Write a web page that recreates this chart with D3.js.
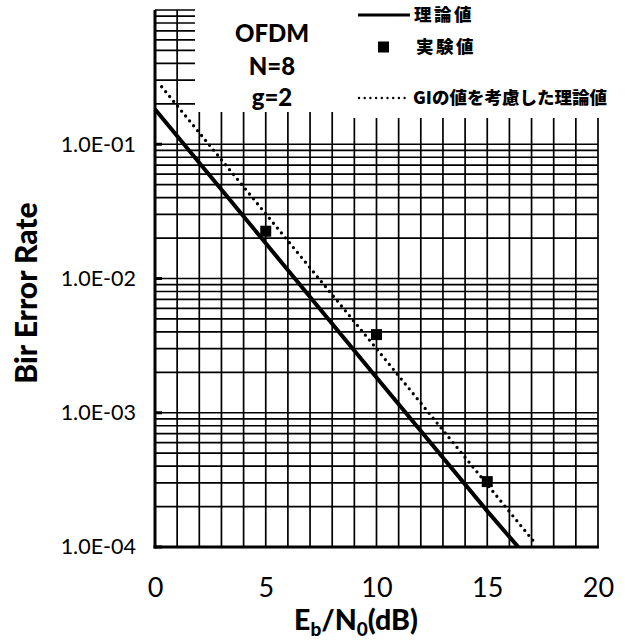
<!DOCTYPE html>
<html><head><meta charset="utf-8">
<script src="https://cdn.jsdelivr.net/npm/d3@7"></script>
<style>body{margin:0;background:#fff}svg{display:block}</style>
</head><body>
<svg id="c" width="635" height="643"></svg>
<script>
// Data
const xTicks = [0, 5, 10, 15, 20];
const yTicks = [1e-1, 1e-2, 1e-3, 1e-4];
const yTickLabels = ["1.0E-01", "1.0E-02", "1.0E-03", "1.0E-04"];
const theoryX = [0, 5, 10, 15, 16.4];
const theoryY = [0.182, 0.0183, 0.00183, 0.000185, 0.0001];
const giX = [0.3, 5, 10, 15, 17.2];
const giY = [0.268, 0.0303, 0.0030, 0.000292, 0.000105];
const expX = [5, 10, 15];
const expY = [0.0225, 0.00382, 0.000307];
const infoLines = ["OFDM", "N=8", "g=2"];
const legendLabels = ["理論値", "実験値", "GIの値を考慮した理論値"];

const svg = d3.select("#c");
const L = 155, R = 598, T = 10, B = 547;
const x = d3.scaleLinear().domain([0, 20]).range([L, R]);
const y = d3.scaleLog().domain([1e-4, 1]).range([B, T]);
const font = "Lato, 'Open Sans', sans-serif";
const cjk = "'Noto Sans CJK JP', sans-serif";

// grid
const g = svg.append("g");
d3.range(0, 21).forEach(v => {
  g.append("line").attr("x1", x(v)).attr("x2", x(v)).attr("y1", T).attr("y2", B)
    .attr("stroke", "#000").attr("stroke-width", 1.7);
});
const hvals = [];
for (let e = -4; e <= -1; e++) for (let m = 1; m <= 9; m++) hvals.push(m * Math.pow(10, e));
hvals.push(1);
hvals.forEach(v => {
  g.append("line").attr("x1", L).attr("x2", R).attr("y1", y(v)).attr("y2", y(v))
    .attr("stroke", "#000").attr("stroke-width", 1.7);
});

// axes
const yAxis = d3.axisLeft(y).tickValues(yTicks).tickFormat((d, i) => yTickLabels[i]).tickSize(0).tickPadding(19);
const ya = svg.append("g").attr("transform", `translate(${L},0)`).call(yAxis);
ya.select(".domain").remove();
ya.selectAll("text").attr("font-family", font).attr("font-size", 21.5).attr("fill", "#000");
yTicks.forEach(v => {
  svg.append("line").attr("x1", L).attr("x2", L + 7).attr("y1", y(v)).attr("y2", y(v))
    .attr("stroke", "#000").attr("stroke-width", 3);
});
const xAxis = d3.axisBottom(x).tickValues(xTicks).tickSize(0).tickPadding(31);
const xa = svg.append("g").attr("transform", `translate(0,${B})`).call(xAxis);
xa.select(".domain").remove();
xa.selectAll("text").attr("font-family", font).attr("font-size", 27).attr("fill", "#000");

svg.append("line").attr("x1", L).attr("x2", L).attr("y1", T).attr("y2", B + 1.5).attr("stroke", "#000").attr("stroke-width", 3);
svg.append("line").attr("x1", L - 1.5).attr("x2", R + 1).attr("y1", B).attr("y2", B).attr("stroke", "#000").attr("stroke-width", 3);

// series
const line = d3.line().x(d => x(d[0])).y(d => y(d[1]));
svg.append("path").datum(theoryX.map((v, i) => [v, theoryY[i]])).attr("d", line)
  .attr("fill", "none").attr("stroke", "#000").attr("stroke-width", 4);
svg.append("path").datum(giX.map((v, i) => [v, giY[i]])).attr("d", line)
  .attr("fill", "none").attr("stroke", "#000").attr("stroke-width", 3.3)
  .attr("stroke-linecap", "round").attr("stroke-dasharray", "0 6.3");
svg.selectAll("rect.exp").data(expX.map((v, i) => [v, expY[i]])).enter().append("rect")
  .attr("class", "exp").attr("x", d => x(d[0]) - 5.5).attr("y", d => y(d[1]) - 5.5)
  .attr("width", 11).attr("height", 11).attr("fill", "#000");

// white boxes over top area
svg.append("rect").attr("x", 195).attr("y", 0).attr("width", 148).attr("height", 112).attr("fill", "#fff");
svg.append("rect").attr("x", 343).attr("y", 0).attr("width", 292).attr("height", 118).attr("fill", "#fff");

// info text
const infoY = [42, 75, 106];
infoLines.forEach((t, i) => {
  svg.append("text").attr("x", 272).attr("y", infoY[i]).attr("text-anchor", "middle")
    .attr("font-family", font).attr("font-weight", "900").attr("font-size", 24).text(t);
});

// legend
const lgY = [15, 47, 98];
svg.append("line").attr("x1", 358).attr("x2", 410).attr("y1", lgY[0]).attr("y2", lgY[0]).attr("stroke", "#000").attr("stroke-width", 3);
svg.append("rect").attr("x", 378).attr("y", lgY[1] - 5.5).attr("width", 11).attr("height", 11).attr("fill", "#000");
svg.append("line").attr("x1", 359).attr("x2", 410).attr("y1", lgY[2]).attr("y2", lgY[2]).attr("stroke", "#000").attr("stroke-width", 2.4)
  .attr("stroke-linecap", "round").attr("stroke-dasharray", "0 5.7");
const lgX = [414, 416, 413];
legendLabels.forEach((t, i) => {
  svg.append("text").attr("x", lgX[i]).attr("y", lgY[i]).attr("dy", "0.36em")
    .attr("font-family", cjk).attr("font-weight", "900").attr("font-size", 17.5)
    .attr("letter-spacing", i === 2 ? 0 : 2.5).text(t);
});

// axis titles
svg.append("text").attr("transform", "translate(37,293) rotate(-90)").attr("text-anchor", "middle")
  .attr("font-family", font).attr("font-weight", "900").attr("font-size", 30).text("Bir Error Rate");
const xt = svg.append("text").attr("x", 356).attr("y", 630).attr("text-anchor", "middle")
  .attr("font-family", font).attr("font-weight", "900").attr("font-size", 28.5);
xt.append("tspan").text("E");
xt.append("tspan").attr("font-size", 19).attr("dy", 6).text("b");
xt.append("tspan").attr("dy", -6).text("/N");
xt.append("tspan").attr("font-size", 19).attr("dy", 6).text("0");
xt.append("tspan").attr("dy", -6).text("(dB)");
</script>
</body></html>
